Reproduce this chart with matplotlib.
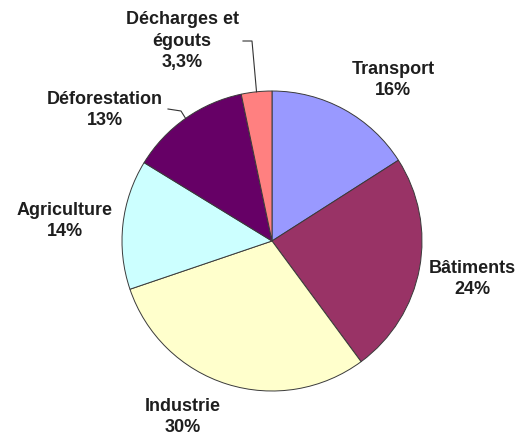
import matplotlib
matplotlib.use("Agg")
import matplotlib.pyplot as plt
import numpy as np

categories = ["Transport", "Bâtiments", "Industrie", "Agriculture", "Déforestation", "Décharges et\négouts"]
values = [16, 24, 30, 14, 13, 3.3]
pct_labels = ["16%", "24%", "30%", "14%", "13%", "3,3%"]
colors = ["#9999FF", "#993366", "#FFFFCC", "#CCFFFF", "#660066", "#FF8080"]

W, H = 524, 439
fig = plt.figure(figsize=(W / 100, H / 100), dpi=100)
ax = fig.add_axes([0, 0, 1, 1])
cx, cy, r = 272, H - 242, 150
wedges, _ = ax.pie(values, colors=colors, startangle=90, counterclock=False,
                   center=(cx, cy), radius=r, frame=True,
                   wedgeprops=dict(edgecolor="#3a3a3a", linewidth=0.7))
ax.set_xlim(0, W)
ax.set_ylim(0, H)
ax.set_aspect("equal")
ax.axis("off")

# label anchor positions (pixel coordinates, y measured from top)
label_pos = [(393, 80), (472, 279), (183, 417), (65, 221), (105, 110), (182, 41)]
font = dict(family=["Liberation Sans", "DejaVu Sans"], fontweight="bold", fontsize=13,
            color="#1e1e1e", ha="center", va="center", linespacing=1.38)
for cat, pct, (x, y) in zip(categories, pct_labels, label_pos):
    ax.text(x, H - y, cat + "\n" + pct, **font)

def edge_point(w):
    mid = np.deg2rad((w.theta1 + w.theta2) / 2)
    return cx + r * np.cos(mid), cy + r * np.sin(mid)

# leader lines for Déforestation and Décharges
ex, ey = edge_point(wedges[4])
ax.plot([168, 181, ex], [H - 110, H - 112, ey], color="#333333", lw=0.8)
ex, ey = edge_point(wedges[5])
ax.plot([243, 252, ex], [H - 42, H - 42, ey], color="#333333", lw=0.8)

fig.savefig("out.png", dpi=100, facecolor="white")
